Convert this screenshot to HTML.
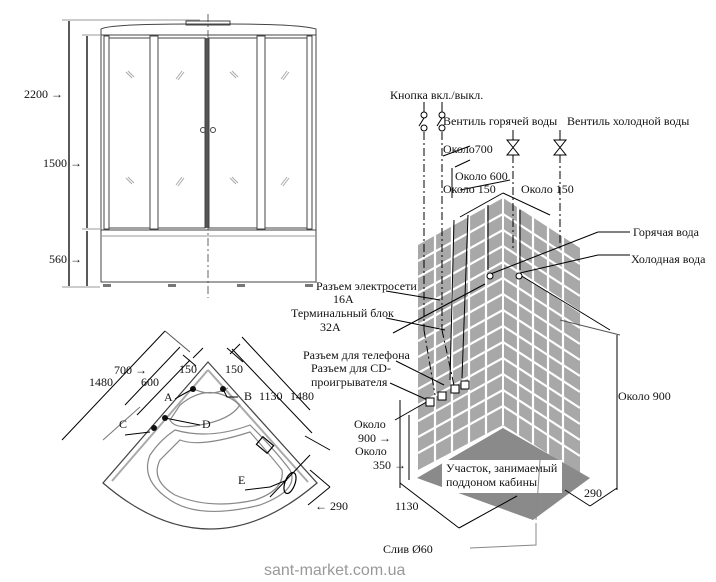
<!DOCTYPE html>
<html><head><meta charset="utf-8"><style>
html,body{margin:0;padding:0;background:#fff}
svg{display:block}
text{font-family:"Liberation Serif",serif;font-size:12px;fill:#111}
</style></head><body>
<svg width="716" height="582" viewBox="0 0 716 582" xmlns="http://www.w3.org/2000/svg">
<defs>
<clipPath id="lw"><polygon points="418,245 503,198 503,425 418,470"/></clipPath>
<clipPath id="rw"><polygon points="503,198 580,248 580,474 503,425"/></clipPath>
</defs>
<!-- FRONT VIEW -->
<g stroke="#444" fill="none" stroke-width="1">
<line x1="208" y1="14" x2="208" y2="298" stroke-dasharray="8,3,2,3" stroke="#666"/>
<line x1="62" y1="20" x2="200" y2="20" stroke="#999"/>
<line x1="82" y1="35" x2="100" y2="35" stroke="#999"/>
<line x1="82" y1="229" x2="100" y2="229" stroke="#999"/>
<line x1="62" y1="287" x2="100" y2="287" stroke="#999"/>
<line x1="69" y1="21" x2="69" y2="286" stroke="#000" stroke-width="1.3"/>
<line x1="87" y1="36" x2="87" y2="228" stroke="#000" stroke-width="1.3"/>
<line x1="87" y1="231" x2="87" y2="286" stroke="#000" stroke-width="1.3"/>
<path d="M101,35 L101,29 Q110,24 190,24 L228,24 Q300,24 316,29 L316,35 Z"/>
<rect x="186" y="21" width="44" height="4"/>
<rect x="101" y="35" width="215" height="195"/>
<rect x="104" y="36" width="5" height="193"/>
<rect x="150" y="36" width="8" height="193"/>
<rect x="257" y="36" width="8" height="193"/>
<rect x="307" y="36" width="5" height="193"/>
<rect x="109" y="38" width="41" height="190"/>
<rect x="158" y="38" width="47" height="190"/>
<rect x="209" y="38" width="48" height="190"/>
<rect x="265" y="38" width="42" height="190"/>
<line x1="207" y1="38" x2="207" y2="228" stroke="#555" stroke-width="3"/>
<rect x="101" y="230" width="215" height="52"/>
<line x1="101" y1="236" x2="316" y2="236" stroke="#999"/>
<line x1="101" y1="282" x2="316" y2="282"/>
<circle cx="203" cy="130" r="2.5"/><circle cx="213" cy="130" r="2.5"/>
</g>
<g stroke="#aaa" stroke-width="1">
<path d="M126,72 l6,6 M128,71 l6,6 M182,71 l-6,8 M184,72 l-6,8 M230,72 l6,6 M232,71 l6,6 M287,71 l-6,8 M289,72 l-6,8"/>
<path d="M126,178 l6,6 M128,177 l6,6 M182,177 l-6,8 M184,178 l-6,8 M230,178 l6,6 M232,177 l6,6 M287,177 l-6,8 M289,178 l-6,8"/>
</g>
<g fill="#777"><rect x="103" y="284" width="8" height="3"/><rect x="168" y="284" width="8" height="3"/><rect x="237" y="284" width="8" height="3"/><rect x="305" y="284" width="8" height="3"/></g>
<text x="24" y="98">2200 →</text>
<text x="43" y="167">1500 →</text>
<text x="49" y="263">560 →</text>

<!-- WALLS -->
<polygon points="418,245 503,198 503,425 418,470" fill="#a8a8a8"/>
<polygon points="503,198 580,248 580,474 503,425" fill="#a8a8a8"/>
<g stroke="#fff" stroke-width="2.2" clip-path="url(#lw)">
<line x1="418" y1="261" x2="503" y2="214"/><line x1="418" y1="277" x2="503" y2="230"/><line x1="418" y1="293" x2="503" y2="246"/><line x1="418" y1="309" x2="503" y2="262"/><line x1="418" y1="325" x2="503" y2="278"/><line x1="418" y1="341" x2="503" y2="294"/><line x1="418" y1="357" x2="503" y2="310"/><line x1="418" y1="373" x2="503" y2="326"/><line x1="418" y1="389" x2="503" y2="342"/><line x1="418" y1="405" x2="503" y2="358"/><line x1="418" y1="421" x2="503" y2="374"/><line x1="418" y1="437" x2="503" y2="390"/><line x1="418" y1="453" x2="503" y2="406"/>
<line x1="435" y1="190" x2="435" y2="480"/><line x1="452" y1="190" x2="452" y2="480"/><line x1="469" y1="190" x2="469" y2="480"/><line x1="486" y1="190" x2="486" y2="480"/>
</g>
<g stroke="#fff" stroke-width="2.2" clip-path="url(#rw)">
<line x1="503" y1="214" x2="580" y2="264"/><line x1="503" y1="230" x2="580" y2="280"/><line x1="503" y1="246" x2="580" y2="296"/><line x1="503" y1="262" x2="580" y2="312"/><line x1="503" y1="278" x2="580" y2="328"/><line x1="503" y1="294" x2="580" y2="344"/><line x1="503" y1="310" x2="580" y2="360"/><line x1="503" y1="326" x2="580" y2="376"/><line x1="503" y1="342" x2="580" y2="392"/><line x1="503" y1="358" x2="580" y2="408"/><line x1="503" y1="374" x2="580" y2="424"/><line x1="503" y1="390" x2="580" y2="440"/><line x1="503" y1="406" x2="580" y2="456"/>
<line x1="518" y1="190" x2="518" y2="480"/><line x1="533" y1="190" x2="533" y2="480"/><line x1="548" y1="190" x2="548" y2="480"/><line x1="563" y1="190" x2="563" y2="480"/>
</g>
<line x1="503" y1="198" x2="503" y2="425" stroke="#fff" stroke-width="2"/>
<!-- floor -->
<polygon points="417,478 503,428 590,478 533,520" fill="#8a8a8a"/>
<rect x="442" y="460" width="120" height="33" fill="#fff"/>
<text x="446" y="472">Участок, занимаемый</text>
<text x="446" y="486">поддоном кабины</text>
<g stroke="#000" fill="none" stroke-width="1">
<line x1="400" y1="483" x2="459" y2="528"/><line x1="459" y1="528" x2="517" y2="496"/>
<line x1="565" y1="490" x2="590" y2="506"/><line x1="590" y1="506" x2="617" y2="488"/>
<line x1="400" y1="400" x2="400" y2="488"/><line x1="409" y1="415" x2="409" y2="480"/>
<line x1="617" y1="335" x2="617" y2="490"/>
<line x1="560" y1="320" x2="620" y2="335" stroke="#555"/>
<line x1="393" y1="333" x2="485" y2="284"/>
<line x1="395" y1="420" x2="430" y2="400"/>
<path d="M540,460 L536,520 M536,523 L536,545 L470,548" stroke="#888"/>
<g stroke-dasharray="8,3,2,3">
<line x1="424" y1="132" x2="424" y2="330"/><line x1="442" y1="132" x2="442" y2="330"/>
<line x1="513" y1="155" x2="513" y2="250"/><line x1="560" y1="155" x2="560" y2="250"/>
<line x1="424" y1="330" x2="435" y2="395"/><line x1="442" y1="330" x2="455" y2="390"/>
</g>
<line x1="454" y1="220" x2="450" y2="380"/><line x1="468" y1="215" x2="462" y2="378"/>
<line x1="488" y1="205" x2="488" y2="270"/><line x1="520" y1="210" x2="520" y2="270"/>
<line x1="488" y1="275" x2="598" y2="232"/><line x1="520" y1="273" x2="598" y2="255"/>
<line x1="598" y1="232" x2="630" y2="232"/><line x1="598" y1="255" x2="630" y2="255"/>
<line x1="520" y1="275" x2="610" y2="330"/>
<line x1="443" y1="156" x2="470" y2="146"/><line x1="455" y1="167" x2="470" y2="160"/>
<line x1="452" y1="168" x2="452" y2="198"/><line x1="460" y1="190" x2="510" y2="180"/>
<line x1="460" y1="217" x2="503" y2="193"/><line x1="503" y1="193" x2="550" y2="215"/>
<line x1="386" y1="291" x2="440" y2="300"/><line x1="386" y1="318" x2="445" y2="330"/>
<line x1="396" y1="361" x2="444" y2="385"/><line x1="390" y1="383" x2="432" y2="402"/>
<line x1="424" y1="102" x2="424" y2="112"/><line x1="442" y1="102" x2="442" y2="112"/>
<circle cx="424" cy="115" r="3"/><circle cx="442" cy="115" r="3"/>
<circle cx="424" cy="128" r="3"/><circle cx="442" cy="128" r="3"/>
<line x1="419" y1="126" x2="424" y2="118"/><line x1="437" y1="126" x2="442" y2="118"/>
<line x1="513" y1="130" x2="513" y2="140"/><line x1="560" y1="130" x2="560" y2="140"/>
<path d="M507,140 L519,140 L507,155 L519,155 Z"/><path d="M554,140 L566,140 L554,155 L566,155 Z"/>
</g>
<g fill="#fff" stroke="#000"><circle cx="490" cy="276" r="3"/><circle cx="519" cy="276" r="3"/>
<rect x="426" y="398" width="8" height="8"/><rect x="438" y="392" width="8" height="8"/><rect x="451" y="385" width="8" height="8"/><rect x="461" y="381" width="8" height="8"/></g>
<text x="390" y="99">Кнопка вкл./выкл.</text>
<text x="443" y="125">Вентиль горячей воды</text>
<text x="567" y="125">Вентиль холодной  воды</text>
<text x="443" y="153">Около700</text>
<text x="455" y="180">Около 600</text>
<text x="443" y="193">Около 150</text>
<text x="521" y="193">Около 150</text>
<text x="633" y="236">Горячая вода</text>
<text x="631" y="263">Холодная вода</text>
<text x="316" y="290">Разъем электросети</text>
<text x="333" y="303">16A</text>
<text x="291" y="317">Терминальный блок</text>
<text x="320" y="331">32A</text>
<text x="303" y="359">Разъем для телефона</text>
<text x="311" y="372">Разъем для CD-</text>
<text x="311" y="386">проигрывателя</text>
<text x="354" y="428">Около</text>
<text x="358" y="442">900 →</text>
<text x="355" y="455">Около</text>
<text x="373" y="469">350 →</text>
<text x="395" y="510">1130</text>
<text x="584" y="497">290</text>
<text x="618" y="400">Около 900</text>
<text x="383" y="553">Слив Ø60</text>

<!-- PLAN VIEW -->
<g fill="none" stroke="#555" stroke-width="1.2">
<path d="M208,362 L103,483 Q210,575 317,483 Z" stroke="#444"/>
<path d="M208,370 L112,481 M208,370 L308,482" stroke="#aaa" stroke-width="2"/>
<path d="M192,388 Q210,398 228,388 M180,405 Q210,380 240,405 Q230,420 200,425 Q175,430 170,420 Z" stroke="#888"/>
<path d="M175,430 Q210,440 250,425 Q275,450 290,470 Q300,490 260,505 Q200,520 170,500 Q140,480 150,455 Q160,440 175,430 Z" stroke="#888"/>
<path d="M180,440 Q200,448 250,432 Q270,455 282,470 Q285,490 255,500 Q210,510 175,495 Q150,480 160,460 Z" stroke="#888"/>
<ellipse cx="290" cy="483" rx="5" ry="11" transform="rotate(20 290 483)" stroke="#000"/>
<rect x="258" y="440" width="14" height="10" transform="rotate(40 265 445)" stroke="#000"/>
</g>
<g stroke="#000" fill="none">
<line x1="62" y1="440" x2="165" y2="331"/><line x1="165" y1="331" x2="190" y2="352" stroke="#555"/>
<line x1="125" y1="405" x2="180" y2="347"/><line x1="137" y1="415" x2="190" y2="360"/>
<line x1="183" y1="355" x2="196" y2="366"/><line x1="193" y1="358" x2="203" y2="348"/>
<line x1="227" y1="348" x2="243" y2="362"/><line x1="230" y1="354" x2="240" y2="344"/>
<line x1="242" y1="337" x2="310" y2="410"/><line x1="232" y1="349" x2="312" y2="433"/>
<line x1="305" y1="436" x2="330" y2="450"/>
<line x1="270" y1="497" x2="310" y2="455"/><line x1="310" y1="470" x2="330" y2="487"/><line x1="308" y1="505" x2="330" y2="487"/>
<line x1="140" y1="407" x2="103" y2="440" stroke="#777"/>
</g>
<g fill="#111"><circle cx="193" cy="389" r="3"/><circle cx="223" cy="389" r="3"/><circle cx="165" cy="418" r="3"/><circle cx="154" cy="428" r="3"/></g>
<g stroke="#000" fill="none"><path d="M175,399 Q185,393 193,389"/><path d="M223,389 L227,397 L238,397"/><path d="M165,418 L200,425"/><path d="M125,435 L150,432"/><path d="M245,490 L270,487 L287,480"/></g>
<text x="114" y="374">700 →</text>
<text x="89" y="386">1480</text>
<text x="141" y="386">600</text>
<text x="179" y="373">150</text>
<text x="225" y="373">150</text>
<text x="164" y="401">A</text>
<text x="244" y="400">B</text>
<text x="259" y="400">1130</text>
<text x="290" y="400">1480</text>
<text x="119" y="428">C</text>
<text x="202" y="428">D</text>
<text x="238" y="484">E</text>
<text x="315" y="510">← 290</text>
<text x="264" y="575" style="font-family:'Liberation Sans',sans-serif;font-size:16px;fill:#999">sant-market.com.ua</text>
</svg>
</body></html>
